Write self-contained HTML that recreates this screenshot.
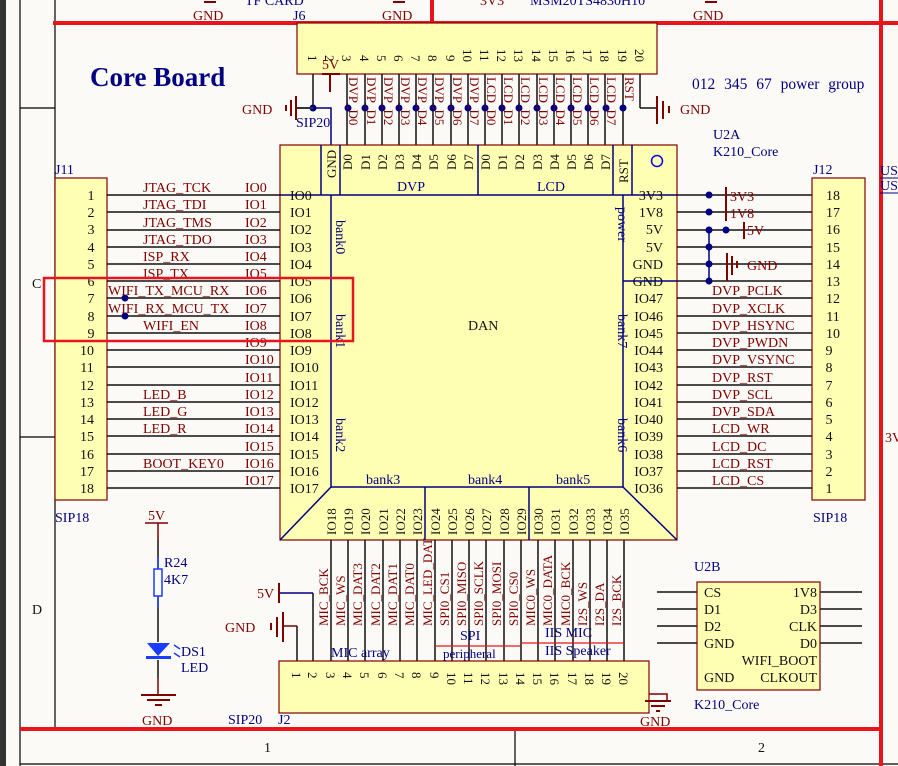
<!DOCTYPE html>
<html><head><meta charset="utf-8"><style>
html,body{margin:0;padding:0;background:#fcfaf6;}
svg{display:block;font-family:"Liberation Serif",serif;}
.r{fill:#800000;font-size:14px}
.b{fill:#000080;font-size:14px}
.k{fill:#111;font-size:14px}
.rs{fill:#800000;font-size:13px}
.ks{fill:#111;font-size:13px}
</style></head><body>
<svg width="898" height="766" viewBox="0 0 898 766" xmlns="http://www.w3.org/2000/svg">
<rect x="0" y="0" width="898" height="766" fill="#fcfaf6"/>
<rect x="0" y="0" width="6" height="766" fill="#333"/>
<g stroke="#000" stroke-width="1.2" fill="none">
<line x1="20" y1="0" x2="20" y2="766"/>
<line x1="55" y1="0" x2="55" y2="729"/>
<line x1="20" y1="108" x2="55" y2="108"/>
<line x1="20" y1="437" x2="55" y2="437"/>
<line x1="515" y1="729" x2="515" y2="766"/>
<line x1="20" y1="764" x2="898" y2="764"/>
</g>
<g stroke="#e8141e" stroke-width="4">
<line x1="53" y1="23" x2="898" y2="23"/>
<line x1="20" y1="729" x2="882" y2="729"/>
<line x1="881" y1="0" x2="881" y2="766"/>
<line x1="432" y1="0" x2="432" y2="23"/>
</g>
<text x="32" y="288" class="k">C</text>
<text x="32" y="614" class="k">D</text>
<text x="264" y="752" class="k">1</text>
<text x="758" y="752" class="k">2</text>
<text x="885" y="442" class="r">3V</text>
<text x="880" y="175" class="b">US</text>
<line x1="880" y1="178" x2="898" y2="178" stroke="#000080"/>
<text x="880" y="190" class="b">US</text>
<line x1="880" y1="193" x2="898" y2="193" stroke="#000080"/>
<text x="193" y="20" class="r">GND</text>
<text x="245" y="5" class="b">TF CARD</text>
<text x="293" y="20" class="b">J6</text>
<text x="382" y="20" class="r">GND</text>
<text x="480" y="5" class="r">3V3</text>
<text x="530" y="5" class="b">MSM20TS4830H10</text>
<text x="693" y="20" class="r">GND</text>
<g stroke="#800000" stroke-width="2"><line x1="204" y1="2" x2="216" y2="2"/><line x1="393" y1="2" x2="405" y2="2"/><line x1="705" y1="2" x2="717" y2="2"/></g>

<text x="90" y="86" fill="#000080" font-size="27" font-weight="bold">Core Board</text>
<text x="692" y="89" fill="#000080" font-size="15.5" word-spacing="5">012 345 67 power group</text>
<text x="713" y="139" class="b">U2A</text>
<text x="713" y="156" class="b">K210_Core</text>

<rect x="297" y="23" width="360" height="51" fill="#ffffb4" stroke="#800000" stroke-width="1.2"/>
<g class="ks">
<text transform="translate(308,55) rotate(90)">1</text>
<text transform="translate(325,55) rotate(90)">2</text>
<text transform="translate(342,55) rotate(90)">3</text>
<text transform="translate(360,55) rotate(90)">4</text>
<text transform="translate(377,55) rotate(90)">5</text>
<text transform="translate(394,55) rotate(90)">6</text>
<text transform="translate(411,55) rotate(90)">7</text>
<text transform="translate(428,55) rotate(90)">8</text>
<text transform="translate(446,55) rotate(90)">9</text>
<text transform="translate(463,49) rotate(90)">10</text>
<text transform="translate(480,49) rotate(90)">11</text>
<text transform="translate(497,49) rotate(90)">12</text>
<text transform="translate(514,49) rotate(90)">13</text>
<text transform="translate(532,49) rotate(90)">14</text>
<text transform="translate(549,49) rotate(90)">15</text>
<text transform="translate(566,49) rotate(90)">16</text>
<text transform="translate(583,49) rotate(90)">17</text>
<text transform="translate(600,49) rotate(90)">18</text>
<text transform="translate(618,49) rotate(90)">19</text>
<text transform="translate(635,49) rotate(90)">20</text>
</g>
<g stroke="#111" stroke-width="1.5">
<line x1="313" y1="74" x2="313" y2="108"/>
<line x1="347" y1="74" x2="347" y2="145"/><line x1="365" y1="74" x2="365" y2="145"/>
<line x1="382" y1="74" x2="382" y2="145"/><line x1="399" y1="74" x2="399" y2="145"/>
<line x1="416" y1="74" x2="416" y2="145"/><line x1="433" y1="74" x2="433" y2="145"/>
<line x1="451" y1="74" x2="451" y2="145"/><line x1="468" y1="74" x2="468" y2="145"/>
<line x1="485" y1="74" x2="485" y2="145"/><line x1="502" y1="74" x2="502" y2="145"/>
<line x1="519" y1="74" x2="519" y2="145"/><line x1="537" y1="74" x2="537" y2="145"/>
<line x1="554" y1="74" x2="554" y2="145"/><line x1="571" y1="74" x2="571" y2="145"/>
<line x1="588" y1="74" x2="588" y2="145"/><line x1="605" y1="74" x2="605" y2="145"/>
<line x1="623" y1="74" x2="623" y2="145"/>
<line x1="640" y1="74" x2="640" y2="108"/><line x1="640" y1="108" x2="657" y2="108"/>
</g>
<path d="M296 108 H331 V145" stroke="#000080" stroke-width="1.5" fill="none"/>
<g fill="#000080">
<circle cx="313" cy="108" r="3.5"/><circle cx="348" cy="108" r="3.5"/><circle cx="365" cy="108" r="3.5"/><circle cx="382" cy="108" r="3.5"/><circle cx="399" cy="108" r="3.5"/><circle cx="416" cy="108" r="3.5"/><circle cx="433" cy="108" r="3.5"/><circle cx="451" cy="108" r="3.5"/><circle cx="468" cy="108" r="3.5"/><circle cx="485" cy="108" r="3.5"/><circle cx="502" cy="108" r="3.5"/><circle cx="519" cy="108" r="3.5"/><circle cx="537" cy="108" r="3.5"/><circle cx="554" cy="108" r="3.5"/><circle cx="571" cy="108" r="3.5"/><circle cx="588" cy="108" r="3.5"/><circle cx="606" cy="108" r="3.5"/><circle cx="623" cy="108" r="3.5"/>
</g>
<g class="rs">
<text transform="translate(349,77) rotate(90)">DVP_D0</text>
<text transform="translate(367,77) rotate(90)">DVP_D1</text>
<text transform="translate(384,77) rotate(90)">DVP_D2</text>
<text transform="translate(401,77) rotate(90)">DVP_D3</text>
<text transform="translate(418,77) rotate(90)">DVP_D4</text>
<text transform="translate(435,77) rotate(90)">DVP_D5</text>
<text transform="translate(453,77) rotate(90)">DVP_D6</text>
<text transform="translate(470,77) rotate(90)">DVP_D7</text>
<text transform="translate(487,77) rotate(90)">LCD_D0</text>
<text transform="translate(504,77) rotate(90)">LCD_D1</text>
<text transform="translate(521,77) rotate(90)">LCD_D2</text>
<text transform="translate(539,77) rotate(90)">LCD_D3</text>
<text transform="translate(556,77) rotate(90)">LCD_D4</text>
<text transform="translate(573,77) rotate(90)">LCD_D5</text>
<text transform="translate(590,77) rotate(90)">LCD_D6</text>
<text transform="translate(607,77) rotate(90)">LCD_D7</text>
<text transform="translate(625,77) rotate(90)">RST</text>
</g>
<g stroke="#800000" stroke-width="2" fill="none">
<line x1="322" y1="74" x2="340" y2="74"/><line x1="330" y1="74" x2="330" y2="92"/>
<line x1="296" y1="108" x2="313" y2="108" stroke="#333"/>
<line x1="296" y1="96" x2="296" y2="120"/><line x1="291" y1="100" x2="291" y2="116"/><line x1="286" y1="105" x2="286" y2="111"/>
<line x1="657" y1="96" x2="657" y2="124"/><line x1="663" y1="101" x2="663" y2="119"/><line x1="669" y1="106" x2="669" y2="113"/>
</g>
<text x="322" y="69" class="r">5V</text>
<text x="242" y="114" class="r">GND</text>
<text x="296" y="127" class="b">SIP20</text>
<text x="680" y="114" class="r">GND</text>

<rect x="280" y="145" width="397" height="395" fill="#ffffb4" stroke="#800000" stroke-width="1.2"/>
<g stroke="#000080" stroke-width="1.5" fill="none">
<line x1="280" y1="195" x2="677" y2="195"/>
<line x1="321" y1="145" x2="321" y2="195"/><line x1="340" y1="145" x2="340" y2="195"/>
<line x1="478" y1="145" x2="478" y2="195"/><line x1="613" y1="145" x2="613" y2="195"/><line x1="632" y1="145" x2="632" y2="195"/>
<line x1="331" y1="195" x2="331" y2="487"/><line x1="623" y1="195" x2="623" y2="487"/>
<line x1="331" y1="487" x2="623" y2="487"/>
<line x1="280" y1="540" x2="331" y2="487"/><line x1="623" y1="487" x2="677" y2="540"/>
<line x1="425" y1="487" x2="425" y2="540"/><line x1="529" y1="487" x2="529" y2="540"/>
</g>
<circle cx="657" cy="161" r="5.5" fill="none" stroke="#0000ff" stroke-width="1.5"/>
<g class="ks">
<text transform="translate(336,178) rotate(-90)">GND</text>
<text transform="translate(352,170) rotate(-90)">D0</text>
<text transform="translate(370,170) rotate(-90)">D1</text>
<text transform="translate(387,170) rotate(-90)">D2</text>
<text transform="translate(404,170) rotate(-90)">D3</text>
<text transform="translate(421,170) rotate(-90)">D4</text>
<text transform="translate(438,170) rotate(-90)">D5</text>
<text transform="translate(456,170) rotate(-90)">D6</text>
<text transform="translate(473,170) rotate(-90)">D7</text>
<text transform="translate(490,170) rotate(-90)">D0</text>
<text transform="translate(507,170) rotate(-90)">D1</text>
<text transform="translate(524,170) rotate(-90)">D2</text>
<text transform="translate(542,170) rotate(-90)">D3</text>
<text transform="translate(559,170) rotate(-90)">D4</text>
<text transform="translate(576,170) rotate(-90)">D5</text>
<text transform="translate(593,170) rotate(-90)">D6</text>
<text transform="translate(610,170) rotate(-90)">D7</text>
<text transform="translate(628,183) rotate(-90)">RST</text>
</g>
<text x="397" y="191" class="b">DVP</text>
<text x="537" y="191" class="b">LCD</text>
<text x="468" y="330" class="k">DAN</text>
<g class="b">
<text transform="translate(336,220) rotate(90)">bank0</text>
<text transform="translate(336,314) rotate(90)">bank1</text>
<text transform="translate(336,418) rotate(90)">bank2</text>
<text transform="translate(618,207) rotate(90)">power</text>
<text transform="translate(618,314) rotate(90)">bank7</text>
<text transform="translate(618,418) rotate(90)">bank6</text>
<text x="366" y="484">bank3</text>
<text x="468" y="484">bank4</text>
<text x="556" y="484">bank5</text>
</g>
<g class="k">
<text x="290" y="200">IO0</text><text x="290" y="217">IO1</text><text x="290" y="234">IO2</text><text x="290" y="252">IO3</text><text x="290" y="269">IO4</text><text x="290" y="286">IO5</text><text x="290" y="303">IO6</text><text x="290" y="321">IO7</text><text x="290" y="338">IO8</text><text x="290" y="355">IO9</text><text x="290" y="372">IO10</text><text x="290" y="390">IO11</text><text x="290" y="407">IO12</text><text x="290" y="424">IO13</text><text x="290" y="441">IO14</text><text x="290" y="459">IO15</text><text x="290" y="476">IO16</text><text x="290" y="493">IO17</text>
</g>
<g class="k" text-anchor="end">
<text x="663" y="200">3V3</text><text x="663" y="217">1V8</text><text x="663" y="234">5V</text><text x="663" y="252">5V</text><text x="663" y="269">GND</text><text x="663" y="286">GND</text><text x="663" y="303">IO47</text><text x="663" y="321">IO46</text><text x="663" y="338">IO45</text><text x="663" y="355">IO44</text><text x="663" y="372">IO43</text><text x="663" y="390">IO42</text><text x="663" y="407">IO41</text><text x="663" y="424">IO40</text><text x="663" y="441">IO39</text><text x="663" y="459">IO38</text><text x="663" y="476">IO37</text><text x="663" y="493">IO36</text>
</g>
<line x1="623" y1="281" x2="677" y2="281" stroke="#000080" stroke-width="1.5"/>
<g class="ks">
<text transform="translate(336,535) rotate(-90)">IO18</text>
<text transform="translate(353,535) rotate(-90)">IO19</text>
<text transform="translate(370,535) rotate(-90)">IO20</text>
<text transform="translate(388,535) rotate(-90)">IO21</text>
<text transform="translate(405,535) rotate(-90)">IO22</text>
<text transform="translate(422,535) rotate(-90)">IO23</text>
<text transform="translate(440,535) rotate(-90)">IO24</text>
<text transform="translate(457,535) rotate(-90)">IO25</text>
<text transform="translate(474,535) rotate(-90)">IO26</text>
<text transform="translate(491,535) rotate(-90)">IO27</text>
<text transform="translate(509,535) rotate(-90)">IO28</text>
<text transform="translate(526,535) rotate(-90)">IO29</text>
<text transform="translate(543,535) rotate(-90)">IO30</text>
<text transform="translate(560,535) rotate(-90)">IO31</text>
<text transform="translate(578,535) rotate(-90)">IO32</text>
<text transform="translate(595,535) rotate(-90)">IO33</text>
<text transform="translate(612,535) rotate(-90)">IO34</text>
<text transform="translate(629,535) rotate(-90)">IO35</text>
</g>

<rect x="55" y="178" width="52" height="322" fill="#ffffb4" stroke="#800000" stroke-width="1.2"/>
<text x="55" y="174" class="b">J11</text>
<text x="55" y="522" class="b">SIP18</text>
<g class="k" text-anchor="middle">
<text x="91" y="200">1</text><text x="91" y="217">2</text><text x="91" y="234">3</text><text x="91" y="252">4</text><text x="91" y="269">5</text><text x="91" y="286">6</text><text x="91" y="303">7</text><text x="91" y="321">8</text><text x="91" y="338">9</text><text x="87" y="355">10</text><text x="87" y="372">11</text><text x="87" y="390">12</text><text x="87" y="407">13</text><text x="87" y="424">14</text><text x="87" y="441">15</text><text x="87" y="459">16</text><text x="87" y="476">17</text><text x="87" y="493">18</text>
</g>
<g stroke="#111" stroke-width="1.5">
<line x1="107" y1="195" x2="280" y2="195"/><line x1="107" y1="212" x2="280" y2="212"/><line x1="107" y1="230" x2="280" y2="230"/><line x1="107" y1="247" x2="280" y2="247"/><line x1="107" y1="264" x2="280" y2="264"/><line x1="107" y1="281" x2="280" y2="281"/><line x1="107" y1="298" x2="280" y2="298"/><line x1="107" y1="316" x2="280" y2="316"/><line x1="107" y1="333" x2="280" y2="333"/><line x1="107" y1="350" x2="280" y2="350"/><line x1="107" y1="367" x2="280" y2="367"/><line x1="107" y1="385" x2="280" y2="385"/><line x1="107" y1="402" x2="280" y2="402"/><line x1="107" y1="419" x2="280" y2="419"/><line x1="107" y1="436" x2="280" y2="436"/><line x1="107" y1="454" x2="280" y2="454"/><line x1="107" y1="471" x2="280" y2="471"/><line x1="107" y1="488" x2="280" y2="488"/>
</g>
<g fill="#000080"><circle cx="125" cy="298" r="3.5"/><circle cx="125" cy="316" r="3.5"/></g>
<g class="r">
<text x="143" y="192">JTAG_TCK</text><text x="143" y="209">JTAG_TDI</text><text x="143" y="227">JTAG_TMS</text><text x="143" y="244">JTAG_TDO</text><text x="143" y="261">ISP_RX</text><text x="143" y="278">ISP_TX</text>
<text x="108" y="295">WIFI_TX_MCU_RX</text><text x="108" y="313">WIFI_RX_MCU_TX</text><text x="143" y="330">WIFI_EN</text>
<text x="143" y="399">LED_B</text><text x="143" y="416">LED_G</text><text x="143" y="433">LED_R</text><text x="143" y="468">BOOT_KEY0</text>
<text x="245" y="192">IO0</text><text x="245" y="209">IO1</text><text x="245" y="227">IO2</text><text x="245" y="244">IO3</text><text x="245" y="261">IO4</text><text x="245" y="278">IO5</text><text x="245" y="295">IO6</text><text x="245" y="313">IO7</text><text x="245" y="330">IO8</text><text x="245" y="347">IO9</text><text x="245" y="364">IO10</text><text x="245" y="382">IO11</text><text x="245" y="399">IO12</text><text x="245" y="416">IO13</text><text x="245" y="433">IO14</text><text x="245" y="451">IO15</text><text x="245" y="468">IO16</text><text x="245" y="485">IO17</text>
</g>
<rect x="44" y="278" width="309" height="63" fill="none" stroke="#e8141e" stroke-width="2.5"/>

<rect x="812" y="178" width="53" height="322" fill="#ffffb4" stroke="#800000" stroke-width="1.2"/>
<text x="813" y="174" class="b">J12</text>
<text x="813" y="522" class="b">SIP18</text>
<g class="k" text-anchor="middle">
<text x="833" y="200">18</text><text x="833" y="217">17</text><text x="833" y="234">16</text><text x="833" y="252">15</text><text x="833" y="269">14</text><text x="833" y="286">13</text><text x="833" y="303">12</text><text x="833" y="321">11</text><text x="833" y="338">10</text><text x="829" y="355">9</text><text x="829" y="372">8</text><text x="829" y="390">7</text><text x="829" y="407">6</text><text x="829" y="424">5</text><text x="829" y="441">4</text><text x="829" y="459">3</text><text x="829" y="476">2</text><text x="829" y="493">1</text>
</g>
<g stroke="#111" stroke-width="1.5">
<line x1="677" y1="195" x2="812" y2="195"/><line x1="677" y1="212" x2="812" y2="212"/><line x1="677" y1="230" x2="812" y2="230"/><line x1="677" y1="247" x2="812" y2="247"/><line x1="677" y1="264" x2="812" y2="264"/><line x1="677" y1="281" x2="812" y2="281"/><line x1="677" y1="298" x2="812" y2="298"/><line x1="677" y1="316" x2="812" y2="316"/><line x1="677" y1="333" x2="812" y2="333"/><line x1="677" y1="350" x2="812" y2="350"/><line x1="677" y1="367" x2="812" y2="367"/><line x1="677" y1="385" x2="812" y2="385"/><line x1="677" y1="402" x2="812" y2="402"/><line x1="677" y1="419" x2="812" y2="419"/><line x1="677" y1="436" x2="812" y2="436"/><line x1="677" y1="454" x2="812" y2="454"/><line x1="677" y1="471" x2="812" y2="471"/><line x1="677" y1="488" x2="812" y2="488"/>
</g>
<line x1="709" y1="230" x2="709" y2="281" stroke="#000080" stroke-width="1.5"/>
<g fill="#000080"><circle cx="709" cy="195" r="3.5"/><circle cx="709" cy="212" r="3.5"/><circle cx="709" cy="230" r="3.5"/><circle cx="726" cy="230" r="3.5"/><circle cx="709" cy="247" r="3.5"/><circle cx="709" cy="264" r="3.5"/><circle cx="709" cy="281" r="3.5"/></g>
<g stroke="#800000" stroke-width="2">
<line x1="726" y1="187" x2="726" y2="221"/><line x1="744" y1="222" x2="744" y2="239"/>
<line x1="727" y1="253" x2="727" y2="281"/><line x1="732" y1="256" x2="732" y2="275"/><line x1="737" y1="261" x2="737" y2="268"/>
</g>
<g class="r"><text x="730" y="201">3V3</text><text x="730" y="218">1V8</text><text x="747" y="235">5V</text><text x="747" y="270">GND</text></g>
<g class="r">
<text x="712" y="295">DVP_PCLK</text><text x="712" y="313">DVP_XCLK</text><text x="712" y="330">DVP_HSYNC</text><text x="712" y="347">DVP_PWDN</text><text x="712" y="364">DVP_VSYNC</text><text x="712" y="382">DVP_RST</text><text x="712" y="399">DVP_SCL</text><text x="712" y="416">DVP_SDA</text><text x="712" y="433">LCD_WR</text><text x="712" y="451">LCD_DC</text><text x="712" y="468">LCD_RST</text><text x="712" y="485">LCD_CS</text>
</g>

<g stroke="#111" stroke-width="1.5">
<line x1="297" y1="626" x2="297" y2="661"/><line x1="313" y1="593" x2="313" y2="661"/>
<line x1="331" y1="540" x2="331" y2="661"/><line x1="348" y1="540" x2="348" y2="661"/><line x1="365" y1="540" x2="365" y2="661"/><line x1="383" y1="540" x2="383" y2="661"/><line x1="400" y1="540" x2="400" y2="661"/><line x1="417" y1="540" x2="417" y2="661"/><line x1="435" y1="540" x2="435" y2="661"/><line x1="452" y1="540" x2="452" y2="661"/><line x1="469" y1="540" x2="469" y2="661"/><line x1="486" y1="540" x2="486" y2="661"/><line x1="504" y1="540" x2="504" y2="661"/><line x1="521" y1="540" x2="521" y2="661"/><line x1="538" y1="540" x2="538" y2="661"/><line x1="555" y1="540" x2="555" y2="661"/><line x1="573" y1="540" x2="573" y2="661"/><line x1="590" y1="540" x2="590" y2="661"/><line x1="607" y1="540" x2="607" y2="661"/><line x1="624" y1="540" x2="624" y2="661"/>
</g>
<path d="M278 593 H313" stroke="#000080" stroke-width="1.5" fill="none"/>
<path d="M283 626 H297" stroke="#800000" stroke-width="1.5" fill="none"/>
<g stroke="#800000" stroke-width="2">
<line x1="279" y1="583" x2="279" y2="603"/>
<line x1="283" y1="612" x2="283" y2="642"/><line x1="277" y1="617" x2="277" y2="637"/><line x1="271" y1="623" x2="271" y2="630"/>
</g>
<text x="257" y="598" class="r">5V</text>
<text x="225" y="632" class="r">GND</text>
<rect x="279" y="661" width="370" height="52" fill="#ffffb4" stroke="#800000" stroke-width="1.2"/>
<g class="ks">
<text transform="translate(292,672) rotate(90)">1</text><text transform="translate(308,672) rotate(90)">2</text><text transform="translate(326,672) rotate(90)">3</text><text transform="translate(343,672) rotate(90)">4</text><text transform="translate(360,672) rotate(90)">5</text><text transform="translate(378,672) rotate(90)">6</text><text transform="translate(395,672) rotate(90)">7</text><text transform="translate(412,672) rotate(90)">8</text><text transform="translate(430,672) rotate(90)">9</text><text transform="translate(447,672) rotate(90)">10</text><text transform="translate(464,672) rotate(90)">11</text><text transform="translate(481,672) rotate(90)">12</text><text transform="translate(499,672) rotate(90)">13</text><text transform="translate(516,672) rotate(90)">14</text><text transform="translate(533,672) rotate(90)">15</text><text transform="translate(550,672) rotate(90)">16</text><text transform="translate(568,672) rotate(90)">17</text><text transform="translate(585,672) rotate(90)">18</text><text transform="translate(602,672) rotate(90)">19</text><text transform="translate(619,672) rotate(90)">20</text>
</g>
<g class="rs">
<text transform="translate(328,626) rotate(-90)">MIC_BCK</text>
<text transform="translate(345,626) rotate(-90)">MIC_WS</text>
<text transform="translate(362,626) rotate(-90)">MIC_DAT3</text>
<text transform="translate(380,626) rotate(-90)">MIC_DAT2</text>
<text transform="translate(397,626) rotate(-90)">MIC_DAT1</text>
<text transform="translate(414,626) rotate(-90)">MIC_DAT0</text>
<text transform="translate(432,626) rotate(-90)">MIC_LED_DAT</text>
<text transform="translate(449,626) rotate(-90)">SPI0_CS1</text>
<text transform="translate(466,626) rotate(-90)">SPI0_MISO</text>
<text transform="translate(483,626) rotate(-90)">SPI0_SCLK</text>
<text transform="translate(501,626) rotate(-90)">SPI0_MOSI</text>
<text transform="translate(518,626) rotate(-90)">SPI0_CS0</text>
<text transform="translate(535,626) rotate(-90)">MIC0_WS</text>
<text transform="translate(552,626) rotate(-90)">MIC0_DATA</text>
<text transform="translate(570,626) rotate(-90)">MIC0_BCK</text>
<text transform="translate(587,626) rotate(-90)">I2S_WS</text>
<text transform="translate(604,626) rotate(-90)">I2S_DA</text>
<text transform="translate(621,626) rotate(-90)">I2S_BCK</text>
</g>
<g stroke="#e8141e" stroke-width="1.2"><line x1="435" y1="646" x2="520" y2="646"/><line x1="521" y1="643" x2="624" y2="643"/></g>
<g class="b">
<text x="331" y="657">MIC array</text>
<text x="460" y="640">SPI</text>
<text x="443" y="658" font-size="13">peripheral</text>
<text x="545" y="637">IIS MIC</text>
<text x="545" y="655">IIS Speaker</text>
</g>
<text x="228" y="724" class="b">SIP20</text>
<text x="278" y="724" class="b">J2</text>
<path d="M649 694 H667 V700" stroke="#800000" stroke-width="1.5" fill="none"/>
<g stroke="#800000" stroke-width="2"><line x1="645" y1="701" x2="671" y2="701"/><line x1="651" y1="706" x2="665" y2="706"/><line x1="656" y1="711" x2="660" y2="711"/></g>
<text x="640" y="726" class="r">GND</text>

<g stroke="#800000" stroke-width="1.5"><line x1="145" y1="523" x2="168" y2="523"/><line x1="158" y1="523" x2="158" y2="540"/><line x1="158" y1="678" x2="158" y2="695"/></g>
<line x1="158" y1="540" x2="158" y2="642" stroke="#111" stroke-width="1.5"/>
<line x1="158" y1="660" x2="158" y2="678" stroke="#111" stroke-width="1.5"/>
<line x1="158" y1="557" x2="158" y2="608" stroke="#1a3cff" stroke-width="1.5"/>
<rect x="154" y="569" width="8" height="27" fill="#fcfaf6" stroke="#1a3cff" stroke-width="1.5"/>
<polygon points="147,643 170,643 158,656" fill="#1a3cff"/>
<rect x="146" y="656" width="25" height="3" fill="#1a3cff"/>
<g stroke="#1a3cff" stroke-width="1.5"><line x1="174" y1="645" x2="180" y2="649"/><line x1="174" y1="653" x2="180" y2="657"/></g>
<g stroke="#800000" stroke-width="2"><line x1="141" y1="695" x2="176" y2="695"/><line x1="147" y1="700" x2="170" y2="700"/><line x1="155" y1="705" x2="162" y2="705"/></g>
<text x="148" y="520" class="r">5V</text>
<text x="164" y="567" class="b">R24</text>
<text x="164" y="584" class="b">4K7</text>
<text x="181" y="656" class="b">DS1</text>
<text x="181" y="672" class="b">LED</text>
<text x="142" y="725" class="r">GND</text>

<text x="694" y="571" class="b">U2B</text>
<text x="694" y="709" class="b">K210_Core</text>
<g stroke="#111" stroke-width="1.5">
<line x1="657" y1="592" x2="697" y2="592"/><line x1="657" y1="609" x2="697" y2="609"/><line x1="657" y1="626" x2="697" y2="626"/><line x1="657" y1="643" x2="697" y2="643"/>
<line x1="820" y1="592" x2="862" y2="592"/><line x1="820" y1="609" x2="862" y2="609"/><line x1="820" y1="626" x2="862" y2="626"/><line x1="820" y1="643" x2="862" y2="643"/>
</g>
<rect x="697" y="582" width="123" height="108" fill="#ffffb4" stroke="#800000" stroke-width="1.2"/>
<g class="k">
<text x="704" y="597">CS</text><text x="704" y="614">D1</text><text x="704" y="631">D2</text><text x="704" y="648">GND</text><text x="704" y="682">GND</text>
</g>
<g class="k" text-anchor="end">
<text x="817" y="597">1V8</text><text x="817" y="614">D3</text><text x="817" y="631">CLK</text><text x="817" y="648">D0</text><text x="817" y="665">WIFI_BOOT</text><text x="817" y="682">CLKOUT</text>
</g>
</svg>
</body></html>
